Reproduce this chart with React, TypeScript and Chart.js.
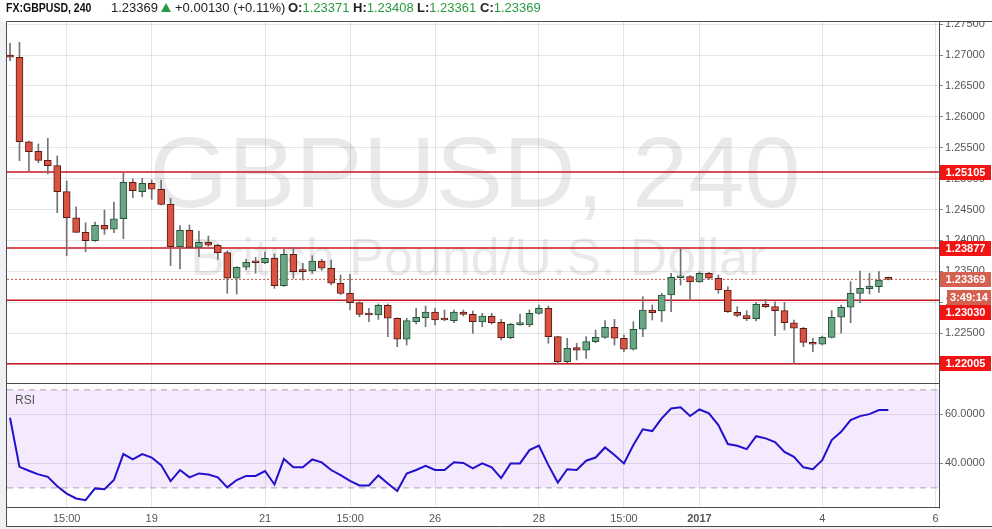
import React, { useEffect, useRef } from 'react';
import { Chart, registerables } from 'chart.js';

Chart.register(...registerables);

const FONT = "'Liberation Sans', Arial, Helvetica, sans-serif";
Chart.defaults.font.family = FONT;
Chart.defaults.font.size = 11;
Chart.defaults.color = '#555';

// ---------- data ----------
const candleOpen = [
  1.27000, 1.26963, 1.25597, 1.25442, 1.25296, 1.25209, 1.24788, 1.24367, 1.24131, 1.23995,
  1.24244, 1.24180, 1.24351, 1.24940, 1.24788, 1.24924, 1.24827, 1.24584, 1.23898, 1.24164,
  1.23888, 1.23969, 1.23921, 1.23801, 1.23387, 1.23565, 1.23655, 1.23640, 1.23710, 1.23267,
  1.23775, 1.23510, 1.23505, 1.23667, 1.23549, 1.23306, 1.23144, 1.22992, 1.22805, 1.22793,
  1.22950, 1.22740, 1.22400, 1.22685, 1.22749, 1.22842, 1.22722, 1.22701, 1.22842, 1.22804,
  1.22680, 1.22772, 1.22675, 1.22426, 1.22636, 1.22631, 1.22820, 1.22901, 1.22442, 1.22037,
  1.22264, 1.22222, 1.22361, 1.22432, 1.22594, 1.22416, 1.22238, 1.22562, 1.22874, 1.22860,
  1.23117, 1.23395, 1.23413, 1.23330, 1.23468, 1.23387, 1.23198, 1.22837, 1.22785, 1.22733,
  1.22966, 1.22930, 1.22863, 1.22668, 1.22578, 1.22351, 1.22319, 1.22432, 1.22756, 1.22918,
  1.23144, 1.23219, 1.23251, 1.23371,
];
const candleHigh = [
  1.27189, 1.27206, 1.25607, 1.25560, 1.25652, 1.25366, 1.24961, 1.24545, 1.24286, 1.24298,
  1.24492, 1.24621, 1.25086, 1.24994, 1.25005, 1.24977, 1.24977, 1.24681, 1.24238, 1.24249,
  1.24152, 1.24071, 1.23935, 1.23833, 1.23575, 1.23694, 1.23727, 1.23817, 1.23780, 1.23856,
  1.23888, 1.23630, 1.23753, 1.23695, 1.23683, 1.23440, 1.23456, 1.23005, 1.22901, 1.22971,
  1.22971, 1.22748, 1.22740, 1.22901, 1.22939, 1.22901, 1.22874, 1.22874, 1.22874, 1.22858,
  1.22820, 1.22820, 1.22723, 1.22659, 1.22809, 1.22874, 1.22955, 1.22939, 1.22450, 1.22416,
  1.22335, 1.22442, 1.22550, 1.22701, 1.22723, 1.22469, 1.22685, 1.23089, 1.22955, 1.23144,
  1.23468, 1.23872, 1.23430, 1.23494, 1.23484, 1.23440, 1.23251, 1.22927, 1.22863, 1.22998,
  1.23047, 1.23008, 1.22998, 1.22712, 1.22594, 1.22416, 1.22453, 1.22863, 1.22955, 1.23332,
  1.23505, 1.23468, 1.23494, 1.23408,
];
const candleLow = [
  1.26908, 1.25290, 1.25128, 1.25257, 1.25075, 1.24448, 1.23752, 1.24128, 1.23817, 1.23985,
  1.24099, 1.24125, 1.24028, 1.24691, 1.24707, 1.24665, 1.24575, 1.23591, 1.23537, 1.23875,
  1.23736, 1.23905, 1.23694, 1.23144, 1.23133, 1.23521, 1.23468, 1.23625, 1.23225, 1.23255,
  1.23387, 1.23359, 1.23468, 1.23515, 1.23278, 1.23125, 1.22874, 1.22765, 1.22684, 1.22723,
  1.22442, 1.22280, 1.22308, 1.22647, 1.22604, 1.22631, 1.22701, 1.22668, 1.22777, 1.22497,
  1.22604, 1.22647, 1.22388, 1.22410, 1.22625, 1.22604, 1.22805, 1.22335, 1.22011, 1.22021,
  1.22065, 1.22092, 1.22345, 1.22415, 1.22308, 1.22199, 1.22225, 1.22442, 1.22712, 1.22685,
  1.22846, 1.23278, 1.23047, 1.23320, 1.23370, 1.23144, 1.22833, 1.22765, 1.22701, 1.22696,
  1.22910, 1.22458, 1.22550, 1.22011, 1.22280, 1.22199, 1.22308, 1.22420, 1.22497, 1.22668,
  1.22992, 1.23133, 1.23160, 1.23361,
];
const candleClose = [
  1.26963, 1.25597, 1.25435, 1.25296, 1.25209, 1.24788, 1.24367, 1.24131, 1.23995, 1.24244,
  1.24180, 1.24351, 1.24940, 1.24804, 1.24924, 1.24827, 1.24584, 1.23898, 1.24164, 1.23888,
  1.23969, 1.23921, 1.23801, 1.23387, 1.23565, 1.23646, 1.23639, 1.23710, 1.23267, 1.23775,
  1.23494, 1.23494, 1.23667, 1.23549, 1.23306, 1.23144, 1.22992, 1.22804, 1.22793, 1.22950,
  1.22740, 1.22400, 1.22701, 1.22756, 1.22842, 1.22712, 1.22712, 1.22842, 1.22804, 1.22685,
  1.22777, 1.22668, 1.22426, 1.22643, 1.22643, 1.22820, 1.22901, 1.22442, 1.22037, 1.22254,
  1.22222, 1.22361, 1.22432, 1.22594, 1.22416, 1.22238, 1.22562, 1.22874, 1.22830, 1.23117,
  1.23403, 1.23413, 1.23330, 1.23468, 1.23387, 1.23198, 1.22846, 1.22785, 1.22733, 1.22966,
  1.22927, 1.22863, 1.22668, 1.22578, 1.22351, 1.22319, 1.22432, 1.22756, 1.22918, 1.23144,
  1.23225, 1.23262, 1.23359, 1.23369,
];
const rsiValues = [
  58.6, 38.6, 37.0, 35.5, 34.5, 30.7, 27.7, 25.7, 25.0, 29.8,
  29.5, 33.2, 43.8, 41.6, 43.8, 42.4, 39.3, 32.8, 37.3, 34.3,
  35.9, 35.5, 34.3, 30.2, 33.2, 34.9, 34.9, 36.9, 31.4, 41.8,
  38.4, 38.4, 41.6, 40.4, 37.3, 35.2, 32.9, 31.0, 31.0, 35.1,
  31.8, 28.7, 35.9, 37.3, 39.0, 37.3, 37.3, 40.5, 40.2, 38.0,
  40.0, 38.4, 34.0, 40.0, 40.0, 45.4, 47.3, 39.3, 32.2, 37.6,
  37.3, 41.1, 42.4, 46.5, 43.4, 40.0, 47.5, 53.9, 53.2, 58.4,
  62.4, 62.9, 59.3, 62.0, 60.4, 55.6, 47.9, 47.2, 45.8, 51.1,
  50.2, 48.7, 44.7, 42.7, 38.4, 37.6, 41.3, 49.5, 52.9, 57.7,
  59.3, 60.1, 61.8, 61.8,
];
const levelValues = [1.25105, 1.23877, 1.2303, 1.22005];
const lastPrice = 1.23369;
const countdownText = '3:49:14';
const priceTicks = [1.22, 1.225, 1.23, 1.235, 1.24, 1.245, 1.25, 1.255, 1.26, 1.265, 1.27, 1.275];
const rsiTicks = [40, 60];
const rsiBands = [70, 30];
const xTickIdx = [6, 15, 27, 36, 45, 56, 65, 73, 86, 98];
const xTickLabels = ['15:00', '19', '21', '15:00', '26', '28', '15:00', '2017', '4', '6'];

const headerSymbol = 'FX:GBPUSD, 240';
const headerLast = '1.23369';
const headerChange = '+0.00130 (+0.11%)';
const headerOHLC = [
  ['O:', '1.23371'],
  ['H:', '1.23408'],
  ['L:', '1.23361'],
  ['C:', '1.23369'],
];
const watermarkTitle = 'GBPUSD, 240';
const watermarkSub = 'British Pound/U.S. Dollar';

// ---------- styling ----------
const X_MIN = -0.32;
const X_MAX = 98.36;
const P_MIN = 1.216926;
const P_MAX = 1.27534;
const R_MIN = 21.8;
const R_MAX = 72.8;

const upFill = '#6ba583';
const downFill = '#d75442';
const upBorder = '#225437';
const downBorder = '#5b1a13';
const wickColor = '#737375';
const levelColor = '#c8161d';
const levelBox = '#f21313';
const lastColor = '#cf5a4a';
const lastBox = '#d4604f';
const gridColor = 'rgba(0,0,0,0.1)';
const frameColor = '#4d4d4d';
const rsiColor = '#2211cc';
const bandFill = '#f4e9fd';
const greenText = '#2a9a40';

export default function App() {
  const priceRef = useRef<HTMLCanvasElement>(null);
  const rsiRef = useRef<HTMLCanvasElement>(null);

  useEffect(() => {
    const isUp = candleOpen.map((o, i) => candleClose[i] >= o);

    const pricePlugin = {
      id: 'priceDecor',
      beforeDraw(chart: any) {
        const { ctx, chartArea: a } = chart;
        const cx = (a.left + a.right) / 2;
        ctx.save();
        ctx.fillStyle = 'rgba(0,0,0,0.085)';
        ctx.textAlign = 'center';
        ctx.textBaseline = 'alphabetic';
        ctx.font = `101px ${FONT}`;
        ctx.fillText(watermarkTitle, cx + 2, 207);
        ctx.font = `52px ${FONT}`;
        ctx.fillText(watermarkSub, cx + 5, 275);
        ctx.restore();
      },
      afterDraw(chart: any) {
        const { ctx, chartArea: a } = chart;
        const W = chart.width;
        ctx.save();
        ctx.fillStyle = '#fff';
        ctx.fillRect(a.right + 1, 0, W - a.right, a.top - 0.5);
        ctx.strokeStyle = frameColor;
        ctx.lineWidth = 1;
        ctx.beginPath();
        ctx.moveTo(6.5, a.top - 0.5);
        ctx.lineTo(W, a.top - 0.5);
        ctx.moveTo(6.5, a.top - 0.5);
        ctx.lineTo(6.5, chart.height);
        ctx.moveTo(a.right + 0.5, a.top - 0.5);
        ctx.lineTo(a.right + 0.5, chart.height);
        ctx.stroke();

        const ys = chart.scales.y;
        const boxes: any[] = levelValues.map((v) => ({
          y: ys.getPixelForValue(v), text: v.toFixed(5), bg: levelBox, x0: a.right + 1,
        }));
        const ly = ys.getPixelForValue(lastPrice);
        boxes.push({ y: ly, text: lastPrice.toFixed(5), bg: lastBox, x0: a.right + 1 });
        boxes.push({ y: ly + 18, text: countdownText, bg: lastBox, x0: a.right + 8 });
        boxes.sort((p, q) => p.y - q.y);
        for (let i = 1; i < boxes.length; i++) {
          if (boxes[i].y - boxes[i - 1].y < 15) boxes[i].y = boxes[i - 1].y + 15;
        }
        ctx.font = `bold 11px ${FONT}`;
        ctx.textAlign = 'center';
        ctx.textBaseline = 'middle';
        for (const b of boxes) {
          ctx.fillStyle = b.bg;
          ctx.fillRect(b.x0, Math.round(b.y - 7.5), W - 1 - b.x0, 15);
          ctx.fillStyle = '#fff';
          ctx.fillText(b.text, (b.x0 + W - 1) / 2, Math.round(b.y - 7.5) + 8);
        }
        ctx.restore();
      },
    };

    const priceChart = new Chart(priceRef.current as HTMLCanvasElement, {
      type: 'bar',
      data: {
        datasets: [
          {
            type: 'bar',
            data: candleOpen.map((o, i) => ({ x: i, y: [o, candleClose[i]] })) as any,
            backgroundColor: isUp.map((u) => (u ? upFill : downFill)),
            borderColor: isUp.map((u) => (u ? upBorder : downBorder)),
            borderWidth: 1,
            borderSkipped: false,
            barThickness: 7,
            minBarLength: 2,
            grouped: false,
            order: 1,
          } as any,
          {
            type: 'bar',
            data: candleLow.map((l, i) => ({ x: i, y: [l, candleHigh[i]] })) as any,
            backgroundColor: wickColor,
            borderWidth: 0,
            barThickness: 1,
            grouped: false,
            order: 2,
          } as any,
          ...levelValues.map((v) => ({
            type: 'line',
            data: [{ x: X_MIN, y: v }, { x: X_MAX, y: v }],
            borderColor: levelColor,
            borderWidth: 1.5,
            pointRadius: 0,
            order: 3,
          } as any)),
          {
            type: 'line',
            data: [{ x: X_MIN, y: lastPrice }, { x: X_MAX, y: lastPrice }],
            borderColor: lastColor,
            borderWidth: 1,
            borderDash: [2, 2],
            pointRadius: 0,
            order: 3,
          } as any,
        ],
      },
      options: {
        responsive: false,
        animation: false,
        events: [],
        layout: { padding: { left: 7, top: 22, right: 0, bottom: 0 } },
        plugins: { legend: { display: false }, tooltip: { enabled: false } },
        scales: {
          x: {
            type: 'linear',
            min: X_MIN,
            max: X_MAX,
            offset: false,
            afterBuildTicks: (s: any) => { s.ticks = xTickIdx.map((v) => ({ value: v })); },
            afterFit: (s: any) => { s.height = 0; s.paddingLeft = 0; s.paddingRight = 0; },
            ticks: { display: false },
            grid: { color: gridColor, drawTicks: false, offset: false },
            border: { display: false },
          },
          y: {
            type: 'linear',
            position: 'right',
            min: P_MIN,
            max: P_MAX,
            afterBuildTicks: (s: any) => { s.ticks = priceTicks.map((v) => ({ value: v })); },
            afterFit: (s: any) => { s.width = 53; s.paddingTop = 0; s.paddingBottom = 0; },
            ticks: { padding: 2, autoSkip: false, color: '#555', font: { size: 11 }, callback: (v: any) => Number(v).toFixed(5) },
            grid: { color: gridColor, tickColor: '#888', tickLength: 4, drawTicks: true },
            border: { display: false },
          },
        },
      } as any,
      plugins: [pricePlugin],
    });

    const rsiPlugin = {
      id: 'rsiDecor',
      beforeDraw(chart: any) {
        const { ctx, chartArea: a } = chart;
        const ys = chart.scales.y;
        const y1 = ys.getPixelForValue(rsiBands[0]);
        const y2 = ys.getPixelForValue(rsiBands[1]);
        ctx.save();
        ctx.fillStyle = bandFill;
        ctx.fillRect(a.left, y1, a.right - a.left, y2 - y1);
        ctx.restore();
      },
      afterDraw(chart: any) {
        const { ctx, chartArea: a } = chart;
        const W = chart.width;
        ctx.save();
        ctx.strokeStyle = frameColor;
        ctx.lineWidth = 1;
        ctx.beginPath();
        ctx.moveTo(6.5, 0.5);
        ctx.lineTo(a.right + 0.5, 0.5);
        ctx.moveTo(6.5, 0);
        ctx.lineTo(6.5, 143.5);
        ctx.moveTo(a.right + 0.5, 0);
        ctx.lineTo(a.right + 0.5, a.bottom + 0.5);
        ctx.moveTo(6.5, a.bottom - 0.5);
        ctx.lineTo(a.right + 0.5, a.bottom - 0.5);
        ctx.moveTo(6.5, 143.5);
        ctx.lineTo(W, 143.5);
        ctx.stroke();
        ctx.fillStyle = '#555';
        ctx.font = `12px ${FONT}`;
        ctx.textAlign = 'left';
        ctx.textBaseline = 'middle';
        ctx.fillText('RSI', 15, 18);
        ctx.restore();
      },
    };

    const rsiChart = new Chart(rsiRef.current as HTMLCanvasElement, {
      type: 'line',
      data: {
        datasets: [
          {
            data: rsiValues.map((v, i) => ({ x: i, y: v })),
            borderColor: rsiColor,
            borderWidth: 2,
            pointRadius: 0,
            tension: 0,
            order: 1,
          },
          ...rsiBands.map((v) => ({
            data: [{ x: X_MIN, y: v }, { x: X_MAX, y: v }],
            borderColor: '#aaa2b0',
            borderWidth: 1,
            borderDash: [6, 5],
            pointRadius: 0,
            order: 2,
          })),
        ],
      },
      options: {
        responsive: false,
        animation: false,
        events: [],
        layout: { padding: { left: 7, top: 0, right: 0, bottom: 0 } },
        plugins: { legend: { display: false }, tooltip: { enabled: false } },
        scales: {
          x: {
            type: 'linear',
            min: X_MIN,
            max: X_MAX,
            afterBuildTicks: (s: any) => { s.ticks = xTickIdx.map((v) => ({ value: v })); },
            afterFit: (s: any) => { s.height = 21; s.paddingLeft = 0; s.paddingRight = 0; },
            ticks: {
              padding: 4,
              autoSkip: false,
              maxRotation: 0,
              color: '#555',
              callback: (_v: any, i: number) => xTickLabels[i],
              font: (c: any) => ({ size: 11, weight: xTickLabels[c.index] === '2017' ? 'bold' : 'normal' }),
            },
            grid: { color: gridColor, drawTicks: false },
            border: { display: false },
          },
          y: {
            type: 'linear',
            position: 'right',
            min: R_MIN,
            max: R_MAX,
            afterBuildTicks: (s: any) => { s.ticks = rsiTicks.map((v) => ({ value: v })); },
            afterFit: (s: any) => { s.width = 53; s.paddingTop = 0; s.paddingBottom = 0; },
            ticks: { padding: 2, color: '#555', callback: (v: any) => Number(v).toFixed(4) },
            grid: { color: gridColor, tickColor: '#888', tickLength: 4, drawTicks: true },
            border: { display: false },
          },
        },
      } as any,
      plugins: [rsiPlugin],
    });

    return () => {
      priceChart.destroy();
      rsiChart.destroy();
    };
  }, []);

  const hdr: React.CSSProperties = {
    position: 'absolute', top: 0, lineHeight: '16px', fontSize: 13, whiteSpace: 'nowrap', color: '#222',
  };

  return (
    <div style={{ position: 'absolute', left: 0, top: 0, width: 992, height: 529, background: '#eef0f3', overflow: 'hidden', fontFamily: FONT }}>
      <div style={{ position: 'absolute', left: 0, top: 0, width: 992, height: 22, background: '#fff' }} />
      <div style={{ position: 'absolute', left: 7, top: 22, width: 985, height: 505, background: '#fff' }} />
      <canvas ref={priceRef} width={992} height={383} style={{ position: 'absolute', left: 0, top: 0 }} />
      <canvas ref={rsiRef} width={992} height={146} style={{ position: 'absolute', left: 0, top: 383 }} />
      <span style={{ ...hdr, left: 6, fontWeight: 'bold', display: 'inline-block', transform: 'scaleX(0.78)', transformOrigin: '0 0', fontSize: 13.5, color: '#111' }}>{headerSymbol}</span>
      <span style={{ ...hdr, left: 111 }}>{headerLast}</span>
      <div style={{ position: 'absolute', left: 161, top: 3, width: 0, height: 0, borderLeft: '5.5px solid transparent', borderRight: '5.5px solid transparent', borderBottom: `9px solid ${greenText}` }} />
      <span style={{ ...hdr, left: 175 }}>{headerChange}</span>
      {headerOHLC.map(([k, v], i) => (
        <span key={k} style={{ ...hdr, left: [288, 353, 417, 480][i] }}>
          <b>{k}</b>
          <span style={{ color: greenText }}>{v}</span>
        </span>
      ))}
    </div>
  );
}
